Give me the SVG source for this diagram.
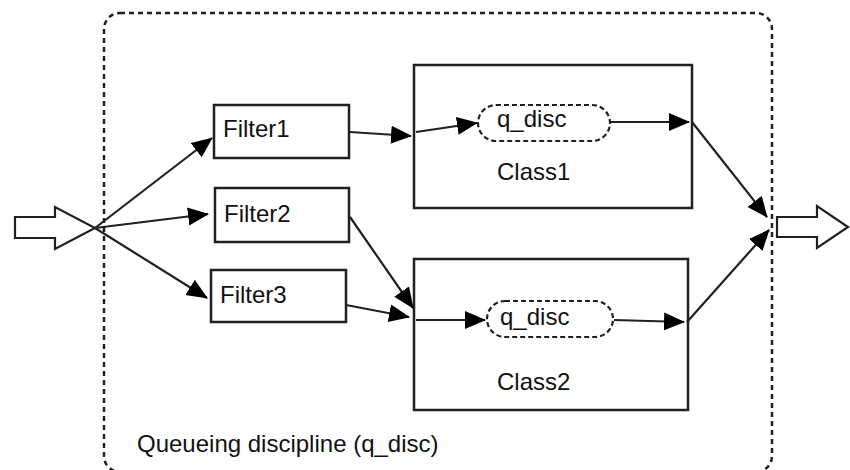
<svg xmlns="http://www.w3.org/2000/svg" width="850" height="470" viewBox="0 0 850 470">
  <defs>
    <style>
      .box { fill: #ffffff; stroke: #231f20; stroke-width: 2.5; }
      .pill { fill: #ffffff; stroke: #231f20; stroke-width: 2.2; stroke-dasharray: 5 3; }
      .frame { fill: none; stroke: #231f20; stroke-width: 2.5; stroke-dasharray: 5 4; }
      .hollow { fill: #ffffff; stroke: #231f20; stroke-width: 2.2; stroke-linejoin: miter; }
      .edge { fill: none; stroke: #231f20; stroke-width: 2.2; marker-end: url(#head); }
      text { font-family: "Liberation Sans", Arial, sans-serif; font-size: 24px; fill: #111111; }
    </style>
    <marker id="head" markerUnits="userSpaceOnUse" markerWidth="22" markerHeight="20" refX="20" refY="9" orient="auto">
      <path d="M0,0 L21,9 L0,18 Z" fill="#000000"/>
    </marker>
  </defs>

  <rect width="850" height="470" fill="#ffffff"/>

  <!-- queueing discipline frame (its bottom edge sits on the canvas edge) -->
  <g id="qdisc-frame">
    <rect class="frame" x="104" y="13" width="668" height="459" rx="16" ry="16"/>
    <text x="137" y="452">Queueing discipline (q_disc)</text>
  </g>

  <!-- class containers -->
  <g id="class1">
    <rect class="box" x="414" y="65" width="278" height="143"/>
    <text x="497" y="180">Class1</text>
  </g>
  <g id="class2">
    <rect class="box" x="414" y="259" width="274" height="151"/>
    <text x="497" y="390">Class2</text>
  </g>

  <!-- inner queueing disciplines -->
  <g id="qdisc1">
    <rect class="pill" x="478" y="105" width="132" height="36" rx="18" ry="18"/>
    <text x="497" y="127">q_disc</text>
  </g>
  <g id="qdisc2">
    <rect class="pill" x="487" y="301" width="126" height="36" rx="18" ry="18"/>
    <text x="500" y="325">q_disc</text>
  </g>

  <!-- filters -->
  <g id="filter1">
    <rect class="box" x="214" y="105" width="135" height="53"/>
    <text x="223" y="137">Filter1</text>
  </g>
  <g id="filter2">
    <rect class="box" x="215" y="188" width="134" height="54"/>
    <text x="224" y="222">Filter2</text>
  </g>
  <g id="filter3">
    <rect class="box" x="211" y="270" width="135" height="52"/>
    <text x="220" y="303">Filter3</text>
  </g>

  <!-- input and output -->
  <g id="input">
    <polygon class="hollow" points="15,217 55,217 55,207 95,228 55,249 55,238 15,238"/>
  </g>
  <g id="output">
    <polygon class="hollow" points="777,217 817,217 817,206 848,227 817,248 817,237 777,237"/>
  </g>

  <!-- connectors -->
  <g id="connectors">
    <line class="edge" x1="95" y1="228" x2="212" y2="138"/>
    <line class="edge" x1="95" y1="228" x2="208" y2="214"/>
    <line class="edge" x1="95" y1="228" x2="207" y2="298"/>
    <line class="edge" x1="350" y1="132" x2="411" y2="136"/>
    <line class="edge" x1="416" y1="132" x2="477" y2="123"/>
    <line class="edge" x1="611" y1="122" x2="689" y2="122"/>
    <line class="edge" x1="692" y1="122" x2="767" y2="217"/>
    <line class="edge" x1="687" y1="322" x2="769" y2="230"/>
    <line class="edge" x1="350" y1="217" x2="413" y2="308"/>
    <line class="edge" x1="346" y1="305" x2="409" y2="317"/>
    <line class="edge" x1="416" y1="320" x2="485" y2="320"/>
    <line class="edge" x1="614" y1="320" x2="684" y2="322"/>
  </g>
</svg>
